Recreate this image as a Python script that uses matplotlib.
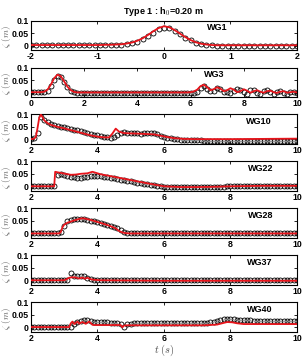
import numpy as np
import matplotlib
matplotlib.use('Agg')
import matplotlib.pyplot as plt

plt.rcParams['font.family'] = 'Liberation Sans'
plt.rcParams['font.weight'] = 'bold'
plt.rcParams['mathtext.fontset'] = 'cm'

# ---------------- data ----------------
# WG1, circles = measured, line = model, t from -2 to 2 every 0.08 s
t_wg1 = np.round(np.arange(-2.0, 2.0001, 0.08), 2)
obs_wg1 = [0.001, 0.001, 0.001, 0.001, 0.001, 0.001, 0.001, 0.001, 0.001, 0.001,
           0.001, 0.001, 0.001, 0.001, 0.002, 0.002, 0.003, 0.004, 0.006, 0.010,
           0.016, 0.025, 0.037, 0.052, 0.065, 0.072, 0.070, 0.060, 0.046, 0.032,
           0.021, 0.012, 0.006, 0.003, 0.001, 0.000, -0.001, -0.001, -0.001, -0.001,
           -0.001, -0.001, 0.000, 0.000, 0.000, 0.000, 0.000, 0.000, 0.000, 0.000,
           0.000]
mod_wg1 = [0.002, 0.002, 0.002, 0.002, 0.002, 0.002, 0.002, 0.002, 0.002, 0.002,
           0.002, 0.002, 0.002, 0.002, 0.003, 0.003, 0.004, 0.005, 0.008, 0.012,
           0.019, 0.029, 0.042, 0.057, 0.070, 0.077, 0.073, 0.062, 0.048, 0.034,
           0.022, 0.013, 0.007, 0.004, 0.002, 0.001, 0.001, 0.001, 0.001, 0.001,
           0.001, 0.001, 0.001, 0.001, 0.001, 0.001, 0.001, 0.001, 0.001, 0.001,
           0.001]

# WG3, t from 0 to 10 every 0.125 s
t_wg3 = np.arange(0, 10.0001, 0.125)
obs_wg3 = [0.001, 0.001, 0.001, 0.001, 0.002, 0.008, 0.025, 0.050, 0.068, 0.062,
           0.042, 0.022, 0.008, 0.002, 0.000, -0.001, -0.001, -0.001, -0.001, -0.001,
           -0.001, -0.001, -0.001, -0.001, -0.001, -0.001, -0.001, -0.001, -0.001, -0.001,
           -0.001, -0.001, -0.001, -0.001, -0.001, -0.001, -0.001, -0.001, -0.001, -0.001,
           -0.001, -0.001, -0.001, -0.001, -0.001, -0.001, -0.001, -0.002, -0.002, -0.001,
           0.004, 0.018, 0.028, 0.015, 0.005, 0.008, 0.018, 0.014, 0.004, 0.001,
           0.000, 0.008, 0.014, 0.012, 0.002, -0.004, 0.010, 0.012, 0.000, -0.004,
           0.006, 0.010, 0.004, -0.005, 0.004, 0.008, 0.000, -0.004, 0.003, 0.002,
           -0.002]
mod_wg3 = [0.002, 0.002, 0.002, 0.002, 0.004, 0.012, 0.032, 0.058, 0.072, 0.066,
           0.045, 0.024, 0.010, 0.003, 0.001, 0.001, 0.001, 0.001, 0.001, 0.001,
           0.001, 0.001, 0.001, 0.001, 0.001, 0.001, 0.001, 0.001, 0.001, 0.001,
           0.001, 0.001, 0.001, 0.001, 0.001, 0.001, 0.001, 0.001, 0.001, 0.001,
           0.001, 0.001, 0.001, 0.001, 0.001, 0.001, 0.001, 0.001, 0.002, 0.005,
           0.012, 0.026, 0.032, 0.022, 0.010, 0.014, 0.022, 0.016, 0.006, 0.010,
           0.018, 0.012, 0.002, 0.006, 0.014, 0.008, 0.000, 0.006, 0.010, 0.004,
           0.000, 0.006, 0.008, 0.002, -0.001, 0.004, 0.006, 0.000, 0.002, 0.004,
           0.001]

# gauges further along, measured every 0.1 s from 2 to 10 s
t_obs = np.round(np.arange(2.0, 10.0001, 0.1), 1)
obs_wg10 = [0.001, 0.004, 0.025, 0.088, 0.078, 0.068, 0.062, 0.057, 0.053, 0.050,
            0.047, 0.044, 0.041, 0.038, 0.035, 0.031, 0.028, 0.025, 0.021, 0.018,
            0.015, 0.012, 0.010, 0.007, 0.005, 0.008, 0.016, 0.024, 0.027, 0.026,
            0.025, 0.024, 0.023, 0.022, 0.023, 0.024, 0.025, 0.023, 0.019, 0.014,
            0.010, 0.006, 0.003, 0.001, -0.001, -0.002, -0.003, -0.004, -0.004, -0.005,
            -0.005, -0.005, -0.006, -0.006, -0.006, -0.007, -0.007, -0.007, -0.007, -0.007,
            -0.007, -0.007, -0.007, -0.007, -0.008, -0.008, -0.008, -0.008, -0.008, -0.008,
            -0.008, -0.008, -0.008, -0.008, -0.008, -0.008, -0.008, -0.008, -0.008, -0.008,
            -0.008]
obs_wg22 = [0.000, 0.000, 0.000, 0.000, 0.000, 0.000, 0.000, 0.000, 0.045, 0.050,
            0.046, 0.042, 0.039, 0.036, 0.034, 0.034, 0.036, 0.038, 0.040, 0.042,
            0.042, 0.041, 0.039, 0.037, 0.034, 0.032, 0.030, 0.027, 0.025, 0.022,
            0.020, 0.017, 0.015, 0.012, 0.010, 0.008, 0.006, 0.004, 0.002, 0.000,
            -0.001, -0.002, -0.003, -0.003, -0.003, -0.003, -0.003, -0.003, -0.003, -0.003,
            -0.003, -0.003, -0.003, -0.003, -0.002, -0.002, -0.002, -0.001, -0.001, 0.000,
            0.000, 0.001, 0.001, 0.001, 0.001, 0.001, 0.001, 0.001, 0.001, 0.001,
            0.001, 0.001, 0.001, 0.001, 0.001, 0.001, 0.001, 0.001, 0.001, 0.001,
            0.001]
obs_wg28 = [0.000, 0.000, 0.000, 0.000, 0.000, 0.000, 0.000, 0.000, 0.000, 0.005,
            0.028, 0.050, 0.054, 0.056, 0.057, 0.057, 0.056, 0.054, 0.051, 0.048,
            0.045, 0.042, 0.039, 0.035, 0.031, 0.026, 0.021, 0.013, 0.006, 0.002,
            0.001, 0.001, 0.001, 0.001, 0.001, 0.001, 0.001, 0.001, 0.001, 0.001,
            0.001, 0.001, 0.001, 0.001, 0.001, 0.001, 0.001, 0.001, 0.001, 0.001,
            0.001, 0.001, 0.001, 0.001, 0.001, 0.001, 0.001, 0.001, 0.001, 0.001,
            0.001, 0.001, 0.001, 0.001, 0.001, 0.001, 0.001, 0.001, 0.001, 0.001,
            0.001, 0.001, 0.001, 0.001, 0.001, 0.001, 0.001, 0.001, 0.001, 0.001,
            0.001]
obs_wg37 = [0.000, 0.000, 0.000, 0.000, 0.000, 0.000, 0.000, 0.000, 0.000, 0.000,
            0.000, 0.002, 0.028, 0.017, 0.016, 0.016, 0.016, 0.010, 0.005, 0.003,
            0.002, 0.001, 0.001, 0.001, 0.001, 0.001, 0.001, 0.001, 0.001, 0.001,
            0.000, 0.000, 0.000, 0.000, 0.000, 0.000, 0.000, 0.000, 0.000, 0.000,
            0.000, 0.000, 0.000, 0.000, 0.000, 0.000, 0.000, 0.000, 0.000, 0.000,
            0.000, 0.000, 0.000, 0.000, 0.000, 0.000, 0.000, 0.000, 0.000, 0.000,
            0.000, 0.000, 0.000, 0.000, 0.000, 0.000, 0.000, 0.000, 0.000, 0.000,
            0.000, 0.000, 0.000, 0.000, 0.000, 0.000, 0.000, 0.000, 0.000, 0.000,
            0.000]
obs_wg40 = [0.000, 0.000, 0.000, 0.000, 0.000, 0.000, 0.000, 0.000, 0.000, 0.000,
            0.000, 0.000, 0.002, 0.012, 0.022, 0.026, 0.027, 0.027, 0.026, 0.022,
            0.021, 0.020, 0.020, 0.019, 0.018, 0.017, 0.016, 0.012, 0.002, 0.012,
            0.014, 0.015, 0.015, 0.016, 0.016, 0.016, 0.016, 0.017, 0.017, 0.017,
            0.017, 0.017, 0.017, 0.017, 0.017, 0.017, 0.017, 0.017, 0.017, 0.017,
            0.017, 0.017, 0.018, 0.018, 0.019, 0.021, 0.023, 0.028, 0.031, 0.032,
            0.033, 0.032, 0.030, 0.029, 0.028, 0.027, 0.027, 0.026, 0.026, 0.026,
            0.026, 0.026, 0.026, 0.026, 0.026, 0.026, 0.026, 0.026, 0.026, 0.026,
            0.026]

# model curves (breakpoints)
t_mod_wg10 = [2.0, 2.1, 2.15, 2.2, 2.25, 2.3, 2.35, 2.4, 2.5, 2.6,
              2.8, 3.0, 3.2, 3.4, 3.6, 3.8, 4.0, 4.2, 4.35, 4.45,
              4.55, 4.65, 4.8, 5.0, 5.4, 5.7, 6.0, 6.3, 6.6, 7.0,
              8.0, 9.0, 10.0]
mod_wg10 = [0.0, 0.002, 0.01, 0.045, 0.085, 0.098, 0.088, 0.075, 0.064, 0.057,
            0.049, 0.043, 0.036, 0.029, 0.022, 0.015, 0.010, 0.007, 0.007, 0.022,
            0.042, 0.030, 0.024, 0.023, 0.021, 0.019, 0.011, 0.004, 0.001, 0.0,
            0.0, 0.001, 0.002]
t_mod_wg22 = [2.0, 2.7, 2.73, 2.8, 3.0, 3.2, 3.35, 3.5, 3.7, 3.85, 3.95,
              4.1, 4.5, 5.0, 5.5, 6.0, 6.5, 7.0, 7.5, 8.0, 9.0, 10.0]
mod_wg22 = [0.0, 0.0, 0.058, 0.056, 0.051, 0.046, 0.047, 0.050, 0.052, 0.058, 0.054,
            0.048, 0.038, 0.025, 0.012, 0.0, -0.003, -0.003, -0.002, 0.0, 0.002, 0.002]
t_mod_wg28 = [2.0, 2.85, 2.9, 2.95, 3.0, 3.1, 3.3, 3.5, 3.6, 3.8,
              4.0, 4.2, 4.4, 4.55, 4.65, 4.75, 4.85, 5.0, 10.0]
mod_wg28 = [0.0, 0.0, 0.006, 0.025, 0.035, 0.043, 0.052, 0.060, 0.060, 0.054,
            0.046, 0.038, 0.029, 0.020, 0.010, 0.004, 0.001, 0.0, 0.0]
t_mod_wg37 = [2.0, 3.0, 3.1, 3.15, 3.25, 3.35, 3.45, 3.55, 3.62, 3.7,
              3.8, 3.9, 4.1, 5.0, 6.0, 10.0]
mod_wg37 = [0.0, 0.0, 0.006, 0.010, 0.012, 0.011, 0.007, 0.011, 0.006, 0.010,
            0.004, 0.002, 0.0, -0.001, -0.002, -0.002]
t_mod_wg40 = [2.0, 3.15, 3.2, 3.25, 3.3, 3.4, 3.45, 3.55, 3.65, 3.75,
              3.8, 3.85, 3.9, 4.0, 4.7, 4.75, 4.8, 4.9, 7.2, 7.6,
              7.9, 8.05, 8.2, 8.4, 9.0, 10.0]
mod_wg40 = [0.0, 0.0, 0.015, 0.022, 0.012, 0.022, 0.014, 0.020, 0.013, 0.022,
            0.016, 0.009, 0.008, 0.008, 0.008, -0.001, 0.006, 0.007, 0.007, 0.010,
            0.020, 0.019, 0.015, 0.012, 0.012, 0.012]

gauges = ['WG1', 'WG3', 'WG10', 'WG22', 'WG28', 'WG37', 'WG40']
panels = [
    (t_wg1, obs_wg1, t_wg1, mod_wg1, (-2, 2), [-2, -1, 0, 1, 2]),
    (t_wg3, obs_wg3, t_wg3, mod_wg3, (0, 10), [0, 2, 4, 6, 8, 10]),
    (t_obs, obs_wg10, t_mod_wg10, mod_wg10, (2, 10), [2, 4, 6, 8, 10]),
    (t_obs, obs_wg22, t_mod_wg22, mod_wg22, (2, 10), [2, 4, 6, 8, 10]),
    (t_obs, obs_wg28, t_mod_wg28, mod_wg28, (2, 10), [2, 4, 6, 8, 10]),
    (t_obs, obs_wg37, t_mod_wg37, mod_wg37, (2, 10), [2, 4, 6, 8, 10]),
    (t_obs, obs_wg40, t_mod_wg40, mod_wg40, (2, 10), [2, 4, 6, 8, 10]),
]

# ---------------- plot ----------------
fig = plt.figure(figsize=(3.03, 3.60), dpi=100)
bottoms = [0.861, 0.730, 0.601, 0.470, 0.339, 0.209, 0.079]
label_x = [0.70, 0.69, 0.855, 0.865, 0.865, 0.86, 0.86]
fs = 6.3

for i, (to, yo, tm, ym, xl, xt) in enumerate(panels):
    ax = fig.add_axes([0.102, bottoms[i], 0.878, 0.082])
    ax.plot(to, yo, 'o', mfc='none', mec='black', ms=3.6, mew=0.6, zorder=2)
    ax.plot(tm, ym, '-', color='#e8141b', lw=1.3, zorder=3)
    ax.set_xlim(xl)
    ax.set_ylim(-0.018, 0.1)
    ax.set_xticks(xt)
    ax.set_xticklabels([str(v) for v in xt], fontsize=fs, fontweight='bold')
    ax.set_yticks([0, 0.05, 0.1])
    ax.set_yticklabels(['0', '0.05', '0.1'], fontsize=fs, fontweight='bold')
    ax.tick_params(direction='in', top=True, right=True, length=2.5, width=0.6, pad=1.5)
    for s in ax.spines.values():
        s.set_linewidth(0.8)
    ax.text(label_x[i], 0.76, gauges[i], transform=ax.transAxes, fontsize=6.5,
            fontweight='bold', ha='center', va='center')
    ax.set_ylabel(r'$\zeta\ (m)$', fontsize=6.5, color='0.35')
    ax.yaxis.set_label_coords(-0.066, 0.45)
    if i == 0:
        ax.set_title(r'Type 1 : h$_\mathbf{0}$=0.20 m', fontsize=6.5, fontweight='bold', pad=5)
    if i == len(panels) - 1:
        ax.set_xlabel(r'$t\ (s)$', fontsize=7.5, color='0.3', labelpad=0)

fig.savefig('out.png', dpi=100)
